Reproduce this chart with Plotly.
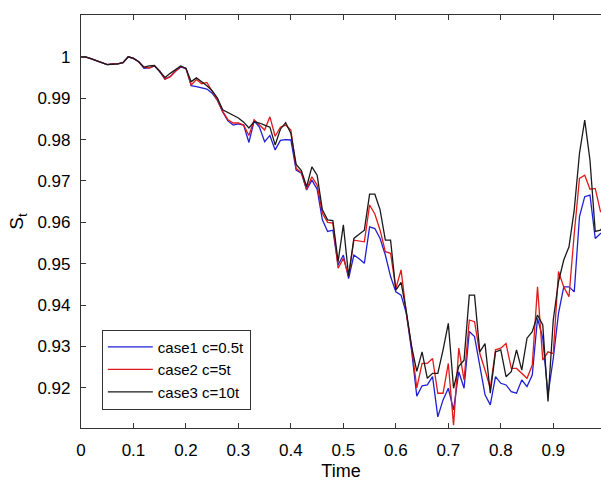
import plotly.graph_objects as go

t = [round(i * 0.01, 2) for i in range(101)]

case1 = [1.0, 0.9999, 0.9995, 0.9990, 0.9985, 0.9981, 0.9983, 0.9983, 0.9986, 1.0000,
         0.9996, 0.9988, 0.9972, 0.9973, 0.9978, 0.9965, 0.9946, 0.9952, 0.9965, 0.9975,
         0.9972, 0.9930, 0.9928, 0.9925, 0.9922, 0.9912, 0.9895, 0.9867, 0.9845, 0.9835,
         0.9838, 0.9835, 0.9793, 0.9845, 0.9830, 0.9795, 0.9810, 0.9775, 0.9798, 0.9800,
         0.9799, 0.9726, 0.9719, 0.9678, 0.9702, 0.9680, 0.9606, 0.9578, 0.9581, 0.9497,
         0.9521, 0.9464, 0.9521, 0.9512, 0.9501, 0.9589, 0.9585, 0.9561, 0.9521, 0.9469,
         0.9432, 0.9424, 0.9380, 0.9290, 0.9180, 0.9205, 0.9207, 0.9227, 0.9130, 0.9171,
         0.9199, 0.9147, 0.9239, 0.9199, 0.9336, 0.9324, 0.9251, 0.9183, 0.9159, 0.9227,
         0.9211, 0.9207, 0.9191, 0.9187, 0.9219, 0.9203, 0.9231, 0.9368, 0.9320, 0.9183,
         0.9271, 0.9380, 0.9444, 0.9444, 0.9432, 0.9614, 0.9662, 0.9666, 0.9561, 0.9573,
         0.9580]

case2 = [1.0, 0.9999, 0.9995, 0.9990, 0.9985, 0.9981, 0.9983, 0.9983, 0.9986, 1.0000,
         0.9996, 0.9988, 0.9975, 0.9973, 0.9978, 0.9965, 0.9946, 0.9952, 0.9965, 0.9977,
         0.9972, 0.9932, 0.9945, 0.9935, 0.9938, 0.9915, 0.9895, 0.9868, 0.9848, 0.9840,
         0.9840, 0.9835, 0.9810, 0.9848, 0.9836, 0.9823, 0.9855, 0.9808, 0.9830, 0.9835,
         0.9823, 0.9730, 0.9720, 0.9680, 0.9710, 0.9690, 0.9622, 0.9600, 0.9598, 0.9489,
         0.9513, 0.9470, 0.9557, 0.9555, 0.9553, 0.9642, 0.9620, 0.9581, 0.9529, 0.9525,
         0.9440, 0.9485, 0.9380, 0.9300, 0.9200, 0.9259, 0.9259, 0.9271, 0.9187, 0.9187,
         0.9259, 0.9110, 0.9296, 0.9219, 0.9364, 0.9360, 0.9283, 0.9243, 0.9199, 0.9292,
         0.9296, 0.9307, 0.9247, 0.9247, 0.9235, 0.9223, 0.9255, 0.9444, 0.9267, 0.9287,
         0.9283, 0.9481, 0.9444, 0.9420, 0.9573, 0.9706, 0.9714, 0.9680, 0.9682, 0.9626,
         0.9620]

case3 = [1.0, 0.9999, 0.9995, 0.9990, 0.9985, 0.9981, 0.9982, 0.9983, 0.9986, 1.0000,
         0.9996, 0.9988, 0.9975, 0.9978, 0.9979, 0.9965, 0.9950, 0.9960, 0.9968, 0.9978,
         0.9972, 0.9940, 0.9949, 0.9940, 0.9930, 0.9918, 0.9900, 0.9872, 0.9865, 0.9858,
         0.9852, 0.9842, 0.9828, 0.9843, 0.9840, 0.9835, 0.9830, 0.9787, 0.9825, 0.9841,
         0.9815, 0.9740, 0.9725, 0.9686, 0.9734, 0.9714, 0.9630, 0.9606, 0.9604, 0.9505,
         0.9594, 0.9470, 0.9561, 0.9571, 0.9581, 0.9668, 0.9668, 0.9630, 0.9557, 0.9557,
         0.9436, 0.9455, 0.9385, 0.9300, 0.9240, 0.9287, 0.9223, 0.9235, 0.9235, 0.9292,
         0.9356, 0.9199, 0.9252, 0.9267, 0.9424, 0.9424, 0.9287, 0.9307, 0.9187, 0.9287,
         0.9292, 0.9227, 0.9239, 0.9292, 0.9243, 0.9320, 0.9336, 0.9376, 0.9352, 0.9167,
         0.9364, 0.9457, 0.9509, 0.9541, 0.9630, 0.9767, 0.9847, 0.9750, 0.9578, 0.9581,
         0.9600]

names = ["case1 c=0.5t", "case2 c=5t", "case3 c=10t"]
colors = ["#1f1fd6", "#e01a1a", "#1a1a1a"]

x_ticks = [0, 0.1, 0.2, 0.3, 0.4, 0.5, 0.6, 0.7, 0.8, 0.9]
x_tick_labels = ["0", "0.1", "0.2", "0.3", "0.4", "0.5", "0.6", "0.7", "0.8", "0.9"]
y_ticks = [0.92, 0.93, 0.94, 0.95, 0.96, 0.97, 0.98, 0.99, 1.0]
y_tick_labels = ["0.92", "0.93", "0.94", "0.95", "0.96", "0.97", "0.98", "0.99", "1"]

fig = go.Figure()
for ys, nm, col in zip([case1, case2, case3], names, colors):
    fig.add_trace(go.Scatter(x=t, y=ys, mode="lines", name=nm,
                             line=dict(color=col, width=1.3)))

axis_col = "#333333"
fig.update_layout(
    width=601, height=481,
    margin=dict(l=81, r=0, t=15, b=53),
    paper_bgcolor="white", plot_bgcolor="white",
    font=dict(family="Liberation Sans, Arial, sans-serif", color="black", size=17),
    showlegend=True,
    legend=dict(x=0.04, y=0.238, xanchor="left", yanchor="top",
                bgcolor="white", bordercolor=axis_col, borderwidth=1,
                font=dict(size=15, color="black"), tracegroupgap=0,
                itemwidth=45),
    xaxis=dict(range=[0, 0.991], tickvals=x_ticks, ticktext=x_tick_labels,
               ticks="inside", ticklen=5, tickcolor=axis_col,
               showline=True, linecolor=axis_col, linewidth=1.2, mirror="ticks",
               showgrid=False, zeroline=False, ticklabelstandoff=6,
               title=dict(text="Time", font=dict(size=18), standoff=6)),
    yaxis=dict(range=[0.9103, 1.0101], tickvals=y_ticks, ticktext=y_tick_labels,
               ticks="inside", ticklen=5, tickcolor=axis_col,
               showline=True, linecolor=axis_col, linewidth=1.2, mirror=False,
               showgrid=False, zeroline=False, ticklabelstandoff=6,
               title=dict(text="S<sub>t</sub>", font=dict(size=19), standoff=8)),
)

fig.write_html("out.html",
               config={"displayModeBar": False},
               post_script="document.body.style.margin='0px';document.body.style.overflow='hidden';")
